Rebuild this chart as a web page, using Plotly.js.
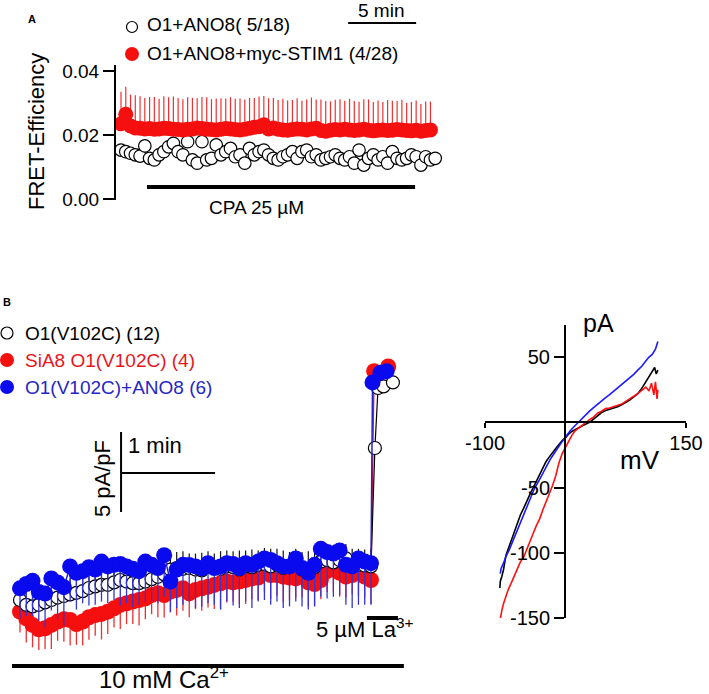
<!DOCTYPE html>
<html><head><meta charset="utf-8">
<script src="https://cdn.plot.ly/plotly-3.0.1.min.js"></script>
<style>html,body{margin:0;padding:0;background:#fff}#chart{width:709px;height:694px}</style>
</head><body><div id="chart"></div>
<script>
// ---------- Panel A: FRET efficiency (time in min) ----------
const dtA = 0.35;
const openA = [0.0153,0.0148,0.0143,0.0138,0.0134,0.0166,0.0127,0.0122,0.0138,0.0148,0.0163,0.0174,0.0148,0.0138,0.0179,0.0122,0.0112,0.0179,0.0122,0.0127,0.0169,0.0138,0.0148,0.0158,0.0132,0.0138,0.0112,0.0158,0.0138,0.0148,0.0153,0.0138,0.0127,0.0122,0.0132,0.0138,0.0148,0.0127,0.0148,0.0153,0.0132,0.0138,0.0122,0.0127,0.0132,0.0138,0.0127,0.0122,0.0132,0.0112,0.0153,0.0106,0.0127,0.0138,0.0122,0.0132,0.0112,0.0148,0.0127,0.0122,0.0127,0.0138,0.0132,0.0106,0.0132,0.0122,0.0127];
const redA = [0.0235,0.0265,0.0228,0.0222,0.0221,0.0219,0.0220,0.0218,0.0219,0.0221,0.0220,0.0218,0.0217,0.0216,0.0218,0.0219,0.0222,0.0220,0.0218,0.0217,0.0216,0.0218,0.0220,0.0219,0.0217,0.0216,0.0218,0.0221,0.0224,0.0226,0.0232,0.0219,0.0222,0.0218,0.0216,0.0215,0.0217,0.0219,0.0218,0.0216,0.0219,0.0221,0.0214,0.0212,0.0215,0.0217,0.0216,0.0218,0.0216,0.0214,0.0216,0.0218,0.0215,0.0213,0.0215,0.0216,0.0214,0.0215,0.0217,0.0216,0.0214,0.0213,0.0215,0.0212,0.0214,0.0216];
const redAerr = [0.0100,0.0086,0.0098,0.0102,0.0100,0.0097,0.0099,0.0101,0.0094,0.0100,0.0098,0.0102,0.0099,0.0096,0.0100,0.0097,0.0093,0.0099,0.0100,0.0095,0.0098,0.0097,0.0094,0.0099,0.0096,0.0098,0.0093,0.0095,0.0092,0.0094,0.0090,0.0096,0.0094,0.0091,0.0097,0.0093,0.0092,0.0096,0.0089,0.0095,0.0098,0.0090,0.0097,0.0094,0.0090,0.0093,0.0096,0.0089,0.0097,0.0092,0.0088,0.0094,0.0096,0.0090,0.0093,0.0087,0.0095,0.0092,0.0089,0.0094,0.0086,0.0090,0.0093,0.0085,0.0091,0.0088];
const yTicksA = [0, 0.02, 0.04];
const yTickTextA = ['0.00', '0.02', '0.04'];
const legendA = ['O1+ANO8( 5/18)', 'O1+ANO8+myc-STIM1 (4/28)'];

// ---------- Panel B left: current density (time in s) ----------
const dtB = 4;
const blackB = [2.5,2.2,2.1,2.2,2.35,2.5,2.65,2.75,2.85,2.95,3.05,3.25,3.35,3.45,3.45,3.6,3.75,3.65,3.55,3.55,3.65,3.8,3.95,4.1,4.4,4.5,4.45,4.5,4.4,4.35,4.55,4.5,4.45,4.6,4.55,4.4,4.6,4.55,4.7,4.75,4.6,4.7,4.5,4.6,4.7,4.4,4.35,4.55,4.9,5.0,4.85,5.0,5.1,4.6,4.7,4.65,4.6];
const blackBerr = [0.9,1.0,1.1,0.9,1.0,1.0,1.1,0.9,1.0,1.2,1.0,0.9,1.1,1.0,1.0,1.1,0.9,1.0,1.2,1.0,1.1,1.0,0.9,1.1,1.2,1.0,1.1,0.9,1.0,1.1,1.0,0.9,1.1,1.0,1.0,1.2,1.0,1.1,0.9,1.0,1.1,1.0,1.1,0.9,1.0,1.1,1.2,1.0,0.9,1.0,1.1,1.0,0.9,1.1,1.0,1.0,1.1];
const redB = [1.77,1.35,0.94,0.67,0.73,0.94,1.15,1.29,1.25,1.0,1.15,1.42,1.56,1.63,1.77,1.98,2.19,2.29,2.4,2.5,2.6,2.81,2.92,2.81,3.02,3.13,3.23,2.92,3.13,3.23,3.33,3.44,3.54,3.65,3.6,3.65,3.75,3.85,3.9,4.17,4.06,4.06,3.96,3.9,3.85,3.96,3.6,3.5,3.75,4.3,4.4,4.2,3.96,4.06,4.17,3.96,3.75];
const redBerr = [1.3,1.5,1.4,1.6,1.3,1.5,1.2,1.4,1.6,1.3,1.5,1.4,1.3,1.6,1.4,1.2,1.5,1.3,1.4,1.6,1.3,1.2,1.5,1.4,1.3,1.6,1.4,1.5,1.2,1.4,1.3,1.5,1.6,1.3,1.2,1.4,1.5,1.3,1.4,1.2,1.5,1.3,1.6,1.4,1.2,1.3,1.5,1.4,1.2,1.3,1.4,1.5,1.3,1.2,1.4,1.3,1.5];
const blueB = [3.23,3.5,3.7,3.0,2.9,3.85,3.6,3.3,4.6,4.2,4.3,4.55,4.4,4.9,4.6,4.7,4.75,4.6,4.45,4.3,4.9,4.7,4.5,5.3,3.65,4.4,4.7,4.69,4.6,4.48,4.8,4.5,4.6,4.8,4.75,4.5,4.8,4.7,4.9,5.1,5.0,4.8,4.6,4.6,5.1,4.5,4.2,4.7,5.7,5.5,5.4,5.6,4.7,4.6,5.1,4.9,4.8];
const blueBerr = [1.9,2.0,2.2,1.8,2.1,2.0,2.3,2.4,2.2,2.3,2.0,2.4,2.2,2.5,2.3,2.2,2.6,2.3,2.4,2.1,2.5,2.3,2.2,2.6,1.9,2.4,2.5,2.3,2.6,2.4,2.5,2.3,2.7,2.4,2.6,2.5,2.4,2.7,2.5,2.6,2.8,2.4,2.6,2.5,2.7,2.4,2.3,2.6,3.0,2.9,2.7,2.8,2.5,2.6,2.9,2.7,2.6];
// points after La3+ application (time s, value)
const redSpikeT = [226, 235];
const redSpikeV = [16.8, 17.1];
const blueSpikeT = [225, 230, 234];
const blueSpikeV = [16.1, 16.7, 16.8];
const blackSpikeT = [226.5, 228.5, 232, 238];
const blackSpikeV = [12.0, 15.75, 15.85, 16.1];
const legendB = ['O1(V102C) (12)', 'SiA8 O1(V102C) (4)', 'O1(V102C)+ANO8 (6)'];

// ---------- Panel B right: I/V curves ----------
const ivBlackX = [-81.5,-81,-79,-77,-74,-71,-68,-64,-60,-56,-52,-48,-44,-40,-36,-32,-28,-24,-20,-16,-12,-8,-4,0,4,8,12,16,20,25,30,35,40,45,50,55,60,65,70,75,80,85,90,95,100,104,108,111,113,115];
const ivBlackY = [-127,-122,-118,-113,-102,-97,-91,-84,-78,-71,-66,-60,-55,-50,-45,-39,-34,-30,-26.5,-23,-20,-17,-14,-12,-9,-7,-5.5,-4.5,-3,-1.5,0,2.5,5,7.5,9,10,10.5,12,13.5,15,17,19.5,22,26,31,35,39,42,37,40];
const ivRedX = [-81,-80,-79,-77,-74,-71,-68,-65,-62,-59,-56,-52,-48,-44,-40,-36,-32,-28,-24,-20,-16,-12,-8,-4,0,4,8,12,16,20,25,30,35,40,45,50,55,60,65,70,75,80,85,90,95,100,104,107,110,112,114,115];
const ivRedY = [-151,-147,-144,-139,-133,-128,-124,-120,-115,-111,-107,-103.6,-97,-91,-85,-79,-74,-67,-61,-56,-48.5,-41,-31,-24,-19,-14,-10,-6.5,-4.5,-3,-0.5,2,4,7,8.5,10.5,11,12,13,14,16,18,19.5,22,24.5,27,24,30,21,31,18,25];
const ivBlueX = [-81,-80,-77,-74,-70,-66,-62,-58,-54,-50,-46,-42,-38,-34,-30,-26,-22,-18,-14,-10,-6,-2,2,6,10,15,20,25,30,35,40,45,50,55,60,65,70,75,80,85,90,95,100,104,108,112,115];
const ivBlueY = [-116,-112,-108,-103,-98,-92,-86,-79,-73,-67,-61,-55,-50,-46,-41,-36,-32,-27.5,-23.5,-20,-16.5,-13,-9.5,-6.5,-3.8,-0.5,2.8,5.6,8.6,11.2,14,16.5,19,21.3,23.8,26.5,29,31.5,34,36.8,40,43,47,50,52,56,62];
const ivXTicks = [-100, 150];
const ivYTicks = [50, -50, -100, -150];

// ---------- helpers (layout placement only) ----------
const W = 709, H = 694;
const px = v => v / W;
const py = v => 1 - v / H;
const FONT = 'Liberation Sans, Arial, sans-serif';
const RED = '#f50f0f', BLUE = '#0a0aef';

const tA_open = openA.map((_, i) => i * dtA);
const tA_red = redA.map((_, i) => i * dtA);
const tB = blueB.map((_, i) => i * dtB);

const traces = [
  { x: tA_open, y: openA, xaxis: 'x', yaxis: 'y', mode: 'markers', type: 'scatter',
    marker: { size: 12.5, color: '#fff', line: { color: '#000', width: 1.2 } } },
  { x: tA_red, y: redA, xaxis: 'x', yaxis: 'y', mode: 'markers', type: 'scatter',
    marker: { size: 15, color: RED, line: { width: 0 } },
    error_y: { type: 'data', symmetric: false, array: redAerr, arrayminus: redAerr.map(() => 0), width: 0, thickness: 1.2, color: '#f03030' } },
  { x: tB.concat(redSpikeT), y: redB.concat(redSpikeV), xaxis: 'x2', yaxis: 'y2', mode: 'lines+markers', type: 'scatter',
    line: { color: RED, width: 1.3 }, marker: { size: 16, color: RED, line: { width: 0 } },
    error_y: { type: 'data', symmetric: false, array: redB.concat(redSpikeV).map(() => 0), arrayminus: redBerr.concat(redSpikeT.map(() => 0)), width: 0, thickness: 1.3, color: '#ee3030' } },
  { x: tB.concat(blackSpikeT), y: blackB.concat(blackSpikeV), xaxis: 'x2', yaxis: 'y2', mode: 'lines+markers', type: 'scatter',
    line: { color: '#000', width: 1.2 }, marker: { size: 13, color: '#fff', line: { color: '#000', width: 1.2 } },
    error_y: { type: 'data', symmetric: false, array: blackBerr.concat(blackSpikeT.map(() => 0)), arrayminus: blackB.concat(blackSpikeV).map(() => 0), width: 0, thickness: 1.2, color: '#111' } },
  { x: tB.concat(blueSpikeT), y: blueB.concat(blueSpikeV), xaxis: 'x2', yaxis: 'y2', mode: 'lines+markers', type: 'scatter',
    line: { color: '#2222cc', width: 1.5 }, marker: { size: 16, color: BLUE, line: { width: 0 } },
    error_y: { type: 'data', symmetric: false, array: blueB.concat(blueSpikeV).map(() => 0), arrayminus: blueBerr.concat(blueSpikeT.map(() => 0)), width: 0, thickness: 1.3, color: '#3434d8' } },
  { x: ivBlackX, y: ivBlackY, xaxis: 'x3', yaxis: 'y3', mode: 'lines', type: 'scatter', line: { color: '#000', width: 1.6 } },
  { x: ivRedX, y: ivRedY, xaxis: 'x3', yaxis: 'y3', mode: 'lines', type: 'scatter', line: { color: '#ff1010', width: 1.6 } },
  { x: ivBlueX, y: ivBlueY, xaxis: 'x3', yaxis: 'y3', mode: 'lines', type: 'scatter', line: { color: '#1a1aff', width: 1.6 } }
];

const ann = (text, x, y, size, opts) => Object.assign({
  text, x: px(x), y: py(y), xref: 'paper', yref: 'paper', showarrow: false,
  xanchor: 'center', yanchor: 'middle', font: { family: FONT, size, color: '#000' }
}, opts || {});

const circ = (cx, cy, d, fill, lineColor) => ({
  type: 'circle', xref: 'paper', yref: 'paper', xsizemode: 'pixel', ysizemode: 'pixel',
  xanchor: px(cx), yanchor: py(cy), x0: -d / 2, x1: d / 2, y0: -d / 2, y1: d / 2,
  fillcolor: fill, line: { color: lineColor || fill, width: lineColor ? 1.2 : 0 }
});

const layout = {
  width: W, height: H, margin: { l: 0, r: 0, t: 0, b: 0 },
  paper_bgcolor: '#fff', plot_bgcolor: 'rgba(0,0,0,0)', showlegend: false, hovermode: false,
  font: { family: FONT, color: '#000' },
  xaxis: { domain: [px(116), px(445)], range: [-0.368, 23.82], visible: false, anchor: 'y' },
  yaxis: { domain: [py(200), py(65)], range: [-0.0003125, 0.041875], anchor: 'x',
    showline: true, linewidth: 2, linecolor: '#000', ticks: 'outside', ticklen: 11, tickwidth: 2, tickcolor: '#000',
    tickvals: yTicksA, ticktext: yTickTextA, tickfont: { family: FONT, size: 19, color: '#000' },
    showgrid: false, zeroline: false },
  xaxis2: { domain: [px(10), px(410)], range: [-6.38, 248.9], visible: false, anchor: 'y2' },
  yaxis2: { domain: [py(650), py(350)], range: [-0.625, 18.125], visible: false, anchor: 'x2' },
  xaxis3: { domain: [px(485), px(686)], range: [-100, 150], anchor: 'free', position: py(422),
    showline: true, linewidth: 2, linecolor: '#000', ticks: 'outside', ticklen: 5, tickwidth: 2, tickcolor: '#000',
    tickvals: ivXTicks, ticktext: ivXTicks.map(String), tickfont: { family: FONT, size: 20, color: '#000' },
    ticklabelstandoff: -2, showgrid: false, zeroline: false },
  yaxis3: { domain: [py(618), py(325)], range: [-150, 74.6], anchor: 'free', position: px(565),
    showline: true, linewidth: 2, linecolor: '#000', ticks: 'outside', ticklen: 10, tickwidth: 2, tickcolor: '#000',
    tickvals: ivYTicks, ticktext: ivYTicks.map(String), tickfont: { family: FONT, size: 20, color: '#000' },
    showgrid: false, zeroline: false },
  shapes: [
    // Panel A bars
    { type: 'line', xref: 'x', yref: 'paper', x0: 1.91, x1: 21.62, y0: py(187), y1: py(187), line: { color: '#000', width: 4 } },
    { type: 'line', xref: 'x', yref: 'paper', x0: 16.7, x1: 21.7, y0: py(23), y1: py(23), line: { color: '#000', width: 2 } },
    // Panel B scale bars
    { type: 'line', xref: 'x2', yref: 'y2', x0: 64.5, x1: 124.5, y0: 10.44, y1: 10.44, line: { color: '#000', width: 2 } },
    { type: 'line', xref: 'x2', yref: 'y2', x0: 64.5, x1: 64.5, y0: 8, y1: 13, line: { color: '#000', width: 2 } },
    { type: 'line', xref: 'x2', yref: 'paper', x0: 221.4, x1: 241.2, y0: py(618), y1: py(618), line: { color: '#000', width: 4 } },
    { type: 'line', xref: 'x2', yref: 'paper', x0: -5.1, x1: 245, y0: py(666), y1: py(666), line: { color: '#000', width: 4 } },
    // legend markers
    circ(132, 27, 11, '#fff', '#000'),
    circ(132, 54, 14, RED),
    circ(7, 333, 12, '#fff', '#000'),
    circ(7, 360, 14, RED),
    circ(7, 387, 14, BLUE)
  ],
  annotations: [
    ann('<b>A</b>', 32, 19, 11),
    ann(legendA[0], 145, 25, 19, { xanchor: 'left' }),
    ann(legendA[1], 145, 53, 19, { xanchor: 'left' }),
    ann('5 min', 381, 11, 19),
    ann('CPA 25 µM', 256, 207, 19),
    ann('FRET-Efficiency', 36, 132, 22, { textangle: -90 }),
    ann('<b>B</b>', 7, 302, 11),
    ann(legendB[0], 23, 333, 19, { xanchor: 'left' }),
    ann(legendB[1], 23, 360, 19, { xanchor: 'left', font: { family: FONT, size: 19, color: '#e8141b' } }),
    ann(legendB[2], 23, 387, 19, { xanchor: 'left', font: { family: FONT, size: 19, color: '#2626c4' } }),
    ann('1 min', 126, 445, 22, { xanchor: 'left' }),
    ann('5 pA/pF', 102, 479, 22, { textangle: -90 }),
    ann('5 µM La<sup>3+</sup>', 365, 628, 22),
    ann('10 mM Ca<sup>2+</sup>', 164, 678, 24),
    ann('pA', 598, 323, 25),
    ann('mV', 640, 460, 26)
  ]
};

Plotly.newPlot('chart', traces, layout, { staticPlot: true, displayModeBar: false });
</script></body></html>
